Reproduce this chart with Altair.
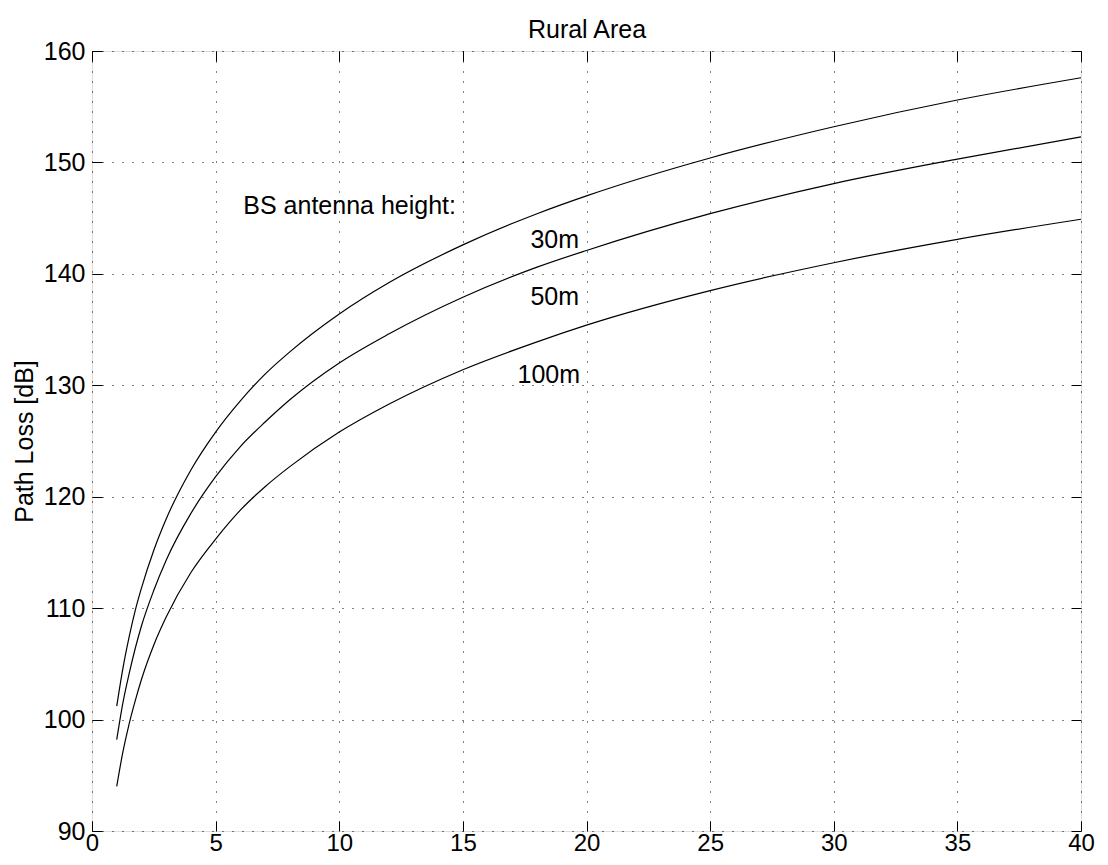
import altair as alt
import pandas as pd

# distance [km] and path loss [dB]
distance_km = [1, 1.25, 1.5, 1.75, 2, 2.5, 3, 4, 5, 6, 7, 8, 10, 12, 15, 18, 20, 25, 30, 35, 40]
loss_30m = [101.2, 104.6, 107.4, 109.8, 111.8, 115.2, 118.0, 122.4, 125.8, 128.6, 131.0, 133.0,
            136.4, 139.2, 142.6, 145.4, 147.0, 150.4, 153.2, 155.6, 157.6]
loss_50m = [98.2, 101.5, 104.1, 106.4, 108.4, 111.6, 114.3, 118.5, 121.8, 124.5, 126.7, 128.7,
            132.0, 134.6, 137.9, 140.6, 142.1, 145.4, 148.1, 150.3, 152.3]
loss_100m = [94.0, 97.1, 99.6, 101.7, 103.6, 106.7, 109.2, 113.2, 116.2, 118.8, 120.9, 122.7,
             125.8, 128.3, 131.4, 133.9, 135.4, 138.5, 141.0, 143.1, 144.9]
series_names = ["30m", "50m", "100m"]

x_ticks = [0, 5, 10, 15, 20, 25, 30, 35, 40]
y_ticks = [90, 100, 110, 120, 130, 140, 150, 160]

chart_title = "Rural Area"
y_title = "Path Loss [dB]"

head_text = ["BS antenna height:"]
head_x = [6.12]
head_y = [145.35]
label_text = ["30m", "50m", "100m"]
label_x = [19.7, 19.7, 19.74]
label_y = [142.3, 137.2, 130.2]

rows = []
for name, vals in zip(series_names, [loss_30m, loss_50m, loss_100m]):
    for d, v in zip(distance_km, vals):
        rows.append({"d": d, "loss": v, "series": name})
df = pd.DataFrame(rows)
head_df = pd.DataFrame({"x": head_x, "y": head_y, "t": head_text})
lab_df = pd.DataFrame({"x": label_x, "y": label_y, "t": label_text})

FONT = "Liberation Sans"
FS = 25

xscale = alt.Scale(domain=[0, 40], nice=False, zero=False)
yscale = alt.Scale(domain=[90, 160], nice=False, zero=False)

common_axis = dict(offset=-10, tickSize=10, domain=False, tickColor="black",
                   labelFlush=False, labelOverlap=False)

x_bottom = alt.Axis(values=x_ticks, orient="bottom", grid=True, gridDash=[1, 9],
                    gridColor="black", gridOpacity=1, labelFont=FONT, labelFontSize=24,
                    labelColor="black", labelPadding=0, title=None, **common_axis)
y_left = alt.Axis(values=y_ticks, orient="left", grid=True, gridDash=[1, 9],
                  gridColor="black", gridOpacity=1, labelFont=FONT, labelFontSize=FS,
                  labelColor="black", labelPadding=7, title=y_title,
                  titleFont=FONT, titleFontSize=FS, titleFontWeight="normal",
                  titleColor="black", titlePadding=6, **common_axis)
x_top = alt.Axis(values=x_ticks, orient="top", grid=False, labels=False, title=chart_title,
                 titleFont=FONT, titleFontSize=FS, titleFontWeight="normal",
                 titleColor="black", titleBaseline="alphabetic", titlePadding=13,
                 **common_axis)
y_right = alt.Axis(values=y_ticks, orient="right", grid=False, labels=False, title=None,
                   **common_axis)

lines = alt.Chart(df).mark_line(color="black", strokeWidth=1.2, interpolate="monotone").encode(
    x=alt.X("d:Q", scale=xscale, axis=x_bottom),
    y=alt.Y("loss:Q", scale=yscale, axis=y_left),
    detail="series:N",
)

frame_axes = alt.Chart(df).mark_line(opacity=0).encode(
    x=alt.X("d:Q", scale=xscale, axis=x_top),
    y=alt.Y("loss:Q", scale=yscale, axis=y_right),
    detail="series:N",
)

head = alt.Chart(head_df).mark_text(align="left", baseline="alphabetic", font=FONT,
                                     fontSize=FS, color="black").encode(
    x=alt.X("x:Q", scale=xscale, axis=None),
    y=alt.Y("y:Q", scale=yscale, axis=None),
    text="t:N",
)

labels = alt.Chart(lab_df).mark_text(align="right", baseline="alphabetic", font=FONT,
                                      fontSize=FS, color="black").encode(
    x=alt.X("x:Q", scale=xscale, axis=None),
    y=alt.Y("y:Q", scale=yscale, axis=None),
    text="t:N",
)

chart = alt.layer(lines, frame_axes, head, labels).resolve_axis(
    x="independent", y="independent"
).properties(
    width=989,
    height=780,
    autosize=alt.AutoSizeParams(type="none"),
    padding={"left": 84, "top": 43, "right": 16, "bottom": 26},
).configure_view(stroke="black", strokeWidth=1.2).configure(background="white")

chart.save("out.html", embed_options={"renderer": "svg", "actions": False})
